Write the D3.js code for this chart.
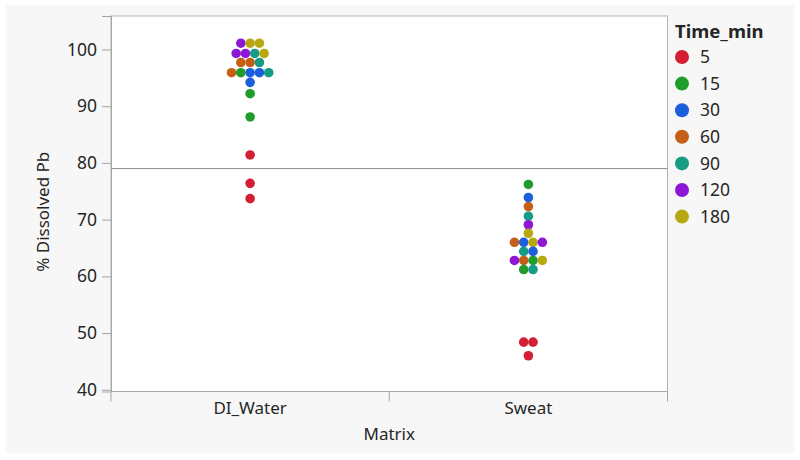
<!DOCTYPE html>
<html>
<head>
<meta charset="utf-8">
<script src="https://cdn.jsdelivr.net/npm/d3@7"></script>
<style>
  html, body { margin: 0; padding: 0; background: #ffffff; }
  #vis { width: 800px; height: 460px; }
  text { font-family: "Noto Sans", "Open Sans", sans-serif; fill: #262626; }
</style>
</head>
<body>
<div id="vis"></div>
<script>
// ---- Data ----
const categories = ["DI_Water", "Sweat"];
const timeLevels = [5, 15, 30, 60, 90, 120, 180];
const timeColors = ["#d21f34", "#1f9c2a", "#1c5fdc", "#c65f16", "#169c84", "#8e17d6", "#b7a812"];

// one entry per point; points sharing a value sit side by side
const matrixVals = [
  "DI_Water","DI_Water","DI_Water",
  "DI_Water","DI_Water","DI_Water","DI_Water",
  "DI_Water","DI_Water","DI_Water",
  "DI_Water","DI_Water","DI_Water","DI_Water","DI_Water",
  "DI_Water","DI_Water","DI_Water",
  "DI_Water","DI_Water","DI_Water",
  "Sweat","Sweat","Sweat","Sweat","Sweat","Sweat",
  "Sweat","Sweat","Sweat","Sweat",
  "Sweat","Sweat",
  "Sweat","Sweat","Sweat","Sweat",
  "Sweat","Sweat",
  "Sweat","Sweat","Sweat"
];
const timeVals = [
  120, 180, 180,
  120, 120, 90, 180,
  60, 60, 90,
  60, 15, 30, 30, 90,
  30, 15, 15,
  5, 5, 5,
  15, 30, 60, 90, 120, 180,
  60, 30, 180, 120,
  90, 30,
  120, 60, 15, 180,
  15, 90,
  5, 5, 5
];
const pctVals = [
  101.1, 101.1, 101.1,
  99.3, 99.3, 99.3, 99.3,
  97.7, 97.7, 97.7,
  95.9, 95.9, 95.9, 95.9, 95.9,
  94.2, 92.2, 88.1,
  81.4, 76.4, 73.7,
  76.2, 73.9, 72.3, 70.6, 69.1, 67.6,
  66.0, 66.0, 66.0, 66.0,
  64.4, 64.4,
  62.8, 62.8, 62.8, 62.8,
  61.2, 61.2,
  48.4, 48.4, 46.0
];
const yTicks = [40, 50, 60, 70, 80, 90, 100];

const points = pctVals.map((v, i) => ({ matrix: matrixVals[i], time: timeVals[i], value: v }));

// ---- Layout ----
const plot = { left: 111, top: 16, right: 667.5, bottom: 391.5 };
const dotR = 4.8;
const dotStep = 9.3;

const svg = d3.select("#vis").append("svg")
  .attr("width", 800)
  .attr("height", 460);

svg.append("rect")
  .attr("x", 6).attr("y", 5)
  .attr("width", 788).attr("height", 448)
  .attr("fill", "#f7f7f7");

const x = d3.scaleBand().domain(categories).range([plot.left, plot.right]).padding(0);
const y = d3.scaleLinear().domain([39.7, 105.9]).range([plot.bottom, plot.top]);
const color = d3.scaleOrdinal().domain(timeLevels).range(timeColors);

// plot frame
svg.append("rect")
  .attr("x", plot.left).attr("y", plot.top)
  .attr("width", plot.right - plot.left).attr("height", plot.bottom - plot.top)
  .attr("fill", "#ffffff")
  .attr("stroke", "#b3b3b3")
  .attr("stroke-width", 1);

// y axis
const yAxis = svg.append("g")
  .attr("transform", `translate(${plot.left},0)`)
  .call(d3.axisLeft(y).tickValues(yTicks).tickSize(9).tickPadding(5));
yAxis.select(".domain").attr("stroke", "#a6a6a6");
yAxis.selectAll(".tick line").attr("stroke", "#a6a6a6");
yAxis.selectAll("text").style("font-size", "17.5px").attr("fill", "#262626");

// x axis: labels at band centers, ticks at band edges
const xAxis = svg.append("g")
  .attr("transform", `translate(0,${plot.bottom})`);
xAxis.append("line")
  .attr("x1", plot.left).attr("x2", plot.right)
  .attr("stroke", "#a6a6a6");
const edges = [x(categories[0])].concat(categories.map(c => x(c) + x.bandwidth()));
xAxis.selectAll("line.edge")
  .data(edges)
  .join("line")
  .attr("class", "edge")
  .attr("x1", d => d).attr("x2", d => d)
  .attr("y1", 0).attr("y2", 10)
  .attr("stroke", "#a6a6a6");
xAxis.selectAll("text")
  .data(categories)
  .join("text")
  .attr("x", d => x(d) + x.bandwidth() / 2)
  .attr("y", 22)
  .attr("text-anchor", "middle")
  .style("font-size", "17px")
  .text(d => d);

// axis titles
svg.append("text")
  .attr("transform", `translate(49,${(plot.top + plot.bottom) / 2 + 8}) rotate(-90)`)
  .attr("text-anchor", "middle")
  .style("font-size", "17px")
  .text("% Dissolved Pb");

svg.append("text")
  .attr("x", (plot.left + plot.right) / 2)
  .attr("y", 439.5)
  .attr("text-anchor", "middle")
  .style("font-size", "17px")
  .text("Matrix");

// grand mean line
const grandMean = d3.mean(points, d => d.value);
svg.append("line")
  .attr("x1", plot.left).attr("x2", plot.right)
  .attr("y1", y(grandMean)).attr("y2", y(grandMean))
  .attr("stroke", "#8c8c8c")
  .attr("stroke-width", 1);

// simple swarm: points with same category and value are centered side by side
const groups = d3.group(points, d => d.matrix, d => d.value);
for (const [, byValue] of groups) {
  for (const [, arr] of byValue) {
    arr.forEach((p, i) => { p.offset = (i - (arr.length - 1) / 2) * dotStep; });
  }
}

svg.append("g")
  .selectAll("circle")
  .data(points)
  .join("circle")
  .attr("cx", d => x(d.matrix) + x.bandwidth() / 2 + d.offset)
  .attr("cy", d => y(d.value))
  .attr("r", dotR)
  .attr("fill", d => color(d.time));

// legend
const legend = svg.append("g").attr("transform", "translate(675,0)");
legend.append("text")
  .attr("x", 0).attr("y", 38)
  .style("font-size", "18.5px")
  .style("font-weight", "bold")
  .attr("fill", "#111")
  .text("Time_min");
const items = legend.selectAll("g.item")
  .data(timeLevels)
  .join("g")
  .attr("class", "item")
  .attr("transform", (d, i) => `translate(0,${57 + i * 26.6})`);
items.append("circle")
  .attr("cx", 7).attr("cy", 0).attr("r", 7)
  .attr("fill", d => color(d));
items.append("text")
  .attr("x", 25).attr("y", 0).attr("dy", "0.35em")
  .style("font-size", "17.5px")
  .text(d => d);
</script>
</body>
</html>
